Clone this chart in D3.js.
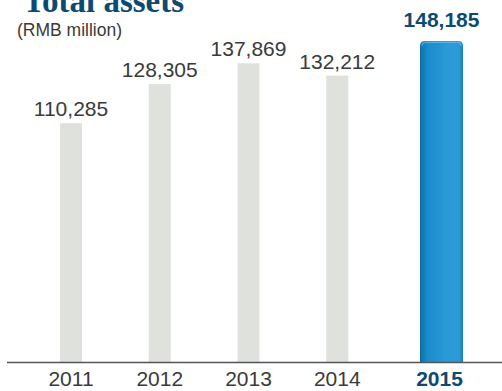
<!DOCTYPE html>
<html>
<head>
<meta charset="utf-8">
<script src="https://cdn.jsdelivr.net/npm/d3@7"></script>
<style>
  html, body { margin: 0; padding: 0; background: #fff; }
  svg { display: block; }
</style>
</head>
<body>
<svg id="chart" width="502" height="391"></svg>
<script>
// Total assets by year (RMB million)
const years = ["2011", "2012", "2013", "2014", "2015"];
const totalAssets = [110285, 128305, 137869, 132212, 148185];
const valueLabels = ["110,285", "128,305", "137,869", "132,212", "148,185"];
const highlightYear = "2015";

const svg = d3.select("#chart");
const baseY = 362.5;

// bar centres along the baseline
const x = d3.scalePoint()
  .domain(years)
  .range([71, 337 + 89]);
const cx = d => d === highlightYear ? 441.5 : x(d);

const y = d3.scaleLinear()
  .domain([0, 150000])
  .range([baseY, baseY - 150000 * 0.00217]);

// blue gradient for the current year's bar
const defs = svg.append("defs");
const grad = defs.append("linearGradient").attr("id", "blueBar")
  .attr("x1", "0").attr("x2", "1").attr("y1", "0").attr("y2", "0");
grad.append("stop").attr("offset", "0%").attr("stop-color", "#0c6fa6");
grad.append("stop").attr("offset", "18%").attr("stop-color", "#1a8ccb");
grad.append("stop").attr("offset", "60%").attr("stop-color", "#2a9ad6");
grad.append("stop").attr("offset", "90%").attr("stop-color", "#2d9bd8");
grad.append("stop").attr("offset", "100%").attr("stop-color", "#1b7fb9");

const data = years.map((yr, i) => ({ yr, v: totalAssets[i], label: valueLabels[i] }));

// grey bars for previous years
svg.selectAll("rect.prev")
  .data(data.filter(d => d.yr !== highlightYear))
  .join("rect")
  .attr("class", "prev")
  .attr("x", d => cx(d.yr) - 11)
  .attr("width", 22)
  .attr("y", d => y(d.v))
  .attr("height", d => baseY - y(d.v))
  .attr("fill", "#dfe1dc");

// highlighted bar with rounded top
const hl = data.find(d => d.yr === highlightYear);
const bw = 43, r = 5;
const bx = cx(hl.yr) - bw / 2, by = y(hl.v);
svg.append("path")
  .attr("d", `M${bx},${baseY} V${by + r} Q${bx},${by} ${bx + r},${by} H${bx + bw - r} Q${bx + bw},${by} ${bx + bw},${by + r} V${baseY} Z`)
  .attr("fill", "url(#blueBar)");
// subtle highlight along the top edge
svg.append("path")
  .attr("d", `M${bx + 2},${by + 5} Q${bx + 2},${by + 1.5} ${bx + r + 1},${by + 1.5} H${bx + bw - r - 1} Q${bx + bw - 2},${by + 1.5} ${bx + bw - 2},${by + 5}`)
  .attr("fill", "none")
  .attr("stroke", "#6cc0ec")
  .attr("stroke-width", 1.2)
  .attr("opacity", 0.7);

// value labels
svg.selectAll("text.val")
  .data(data)
  .join("text")
  .attr("class", "val")
  .attr("x", d => cx(d.yr))
  .attr("y", d => d.yr === highlightYear ? 27 : y(d.v) - 7)
  .attr("text-anchor", "middle")
  .attr("font-family", "'Liberation Sans', Arial, Helvetica, sans-serif")
  .attr("font-size", 21)
  .attr("font-weight", d => d.yr === highlightYear ? "bold" : "normal")
  .attr("fill", d => d.yr === highlightYear ? "#0d4a72" : "#3a3a3a")
  .text(d => d.label);

// baseline axis
svg.append("line")
  .attr("x1", 7).attr("x2", 502)
  .attr("y1", baseY).attr("y2", baseY)
  .attr("stroke", "#555")
  .attr("stroke-width", 1.5);

// year labels
svg.selectAll("text.year")
  .data(years)
  .join("text")
  .attr("class", "year")
  .attr("x", d => cx(d) - (d === highlightYear ? 2 : 0))
  .attr("y", 386)
  .attr("text-anchor", "middle")
  .attr("font-family", "'Liberation Sans', Arial, Helvetica, sans-serif")
  .attr("font-size", 21)
  .attr("font-weight", d => d === highlightYear ? "bold" : "normal")
  .attr("fill", d => d === highlightYear ? "#0d4a72" : "#3a3a3a")
  .text(d => d);

// title and unit
svg.append("text")
  .attr("x", 23).attr("y", 12)
  .attr("font-family", "'Liberation Serif', 'Times New Roman', serif")
  .attr("font-size", 33)
  .attr("font-weight", "bold")
  .attr("fill", "#0d4a72")
  .text("Total assets");

svg.append("text")
  .attr("x", 17).attr("y", 36)
  .attr("font-family", "'Liberation Sans', Arial, Helvetica, sans-serif")
  .attr("font-size", 17.5)
  .attr("fill", "#3a3a3a")
  .text("(RMB million)");
</script>
</body>
</html>
